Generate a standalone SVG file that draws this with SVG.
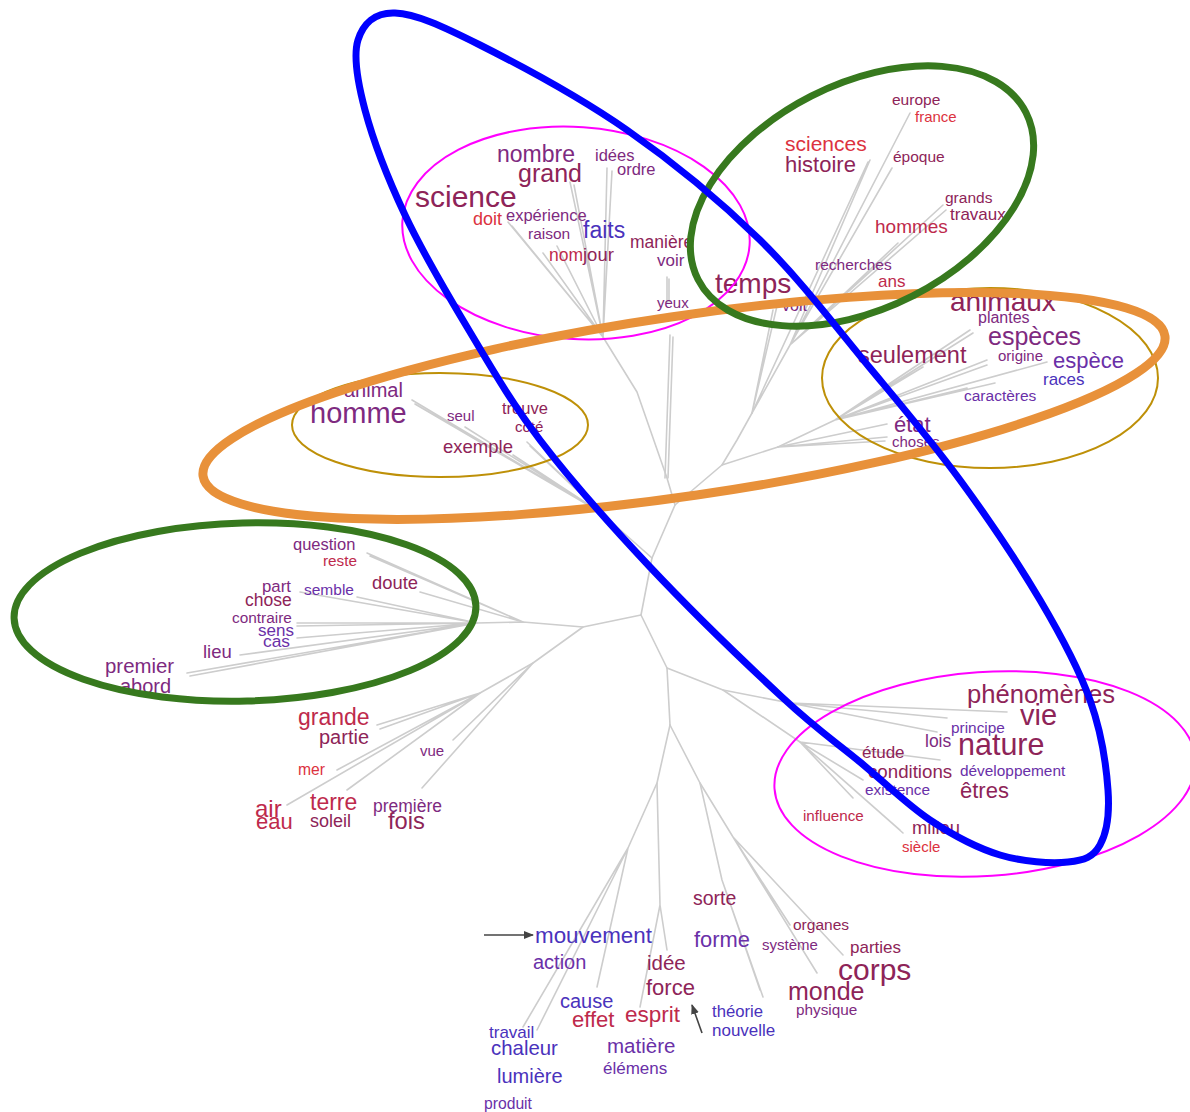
<svg xmlns="http://www.w3.org/2000/svg" width="1190" height="1112" viewBox="0 0 1190 1112">
<style>
text{font-family:"Liberation Sans",Arial,sans-serif}
.r{fill:#dc3240}.cr{fill:#be2a4c}.m{fill:#8e2458}.p{fill:#7e2a80}.v{fill:#6a30a8}.b{fill:#4a32bc}
.tree path{fill:none;stroke:#cdcdcd;stroke-width:1.6;stroke-linecap:round;stroke-linejoin:round}
.ring{fill:none}
</style>
<defs>
<marker id="ah" viewBox="0 0 10 10" refX="9" refY="5" markerWidth="10" markerHeight="10" markerUnits="userSpaceOnUse" orient="auto"><path d="M0,1 L10,5 L0,9 Z" fill="#444"/></marker>
</defs>
<rect width="1190" height="1112" fill="#ffffff"/>
<g id="connectors" class="tree">
<path d="M641,615 L652,558 L675,505 L667,478 L637,392 L603,337"/>
<path d="M652,558 L600,512"/>
<path d="M675,505 L722,465 L778,447"/>
<path d="M722,465 L737,440 L752,413"/>
<path d="M641,615 L583,627 L523,622 L477,623"/>
<path d="M583,627 L533,663 L480,693"/>
<path d="M641,615 L667,668 L670,725"/>
<path d="M667,668 L723,690 L790,703"/>
<path d="M723,690 L800,742"/>
<path d="M603,337 L508,222 M603,337 L512,226 M603,337 L543,253 M603,337 L557,246 M603,337 L570,182 M603,337 L574,185 M603,337 L607,168 M603,337 L612,171 M603,337 L588,262"/>
<path d="M670,335 L665,478 M673,337 L668,478 M667,277 L667,303 M669,279 L669,302"/>
<path d="M752,413 L773,310 M752,413 L777,306"/>
<path d="M752,413 L790,345 L910,113 M790,345 L892,168 M790,345 L870,160 M790,345 L943,205 M790,345 L946,210 M790,345 L898,243 M752,413 L868,162"/>
<path d="M778,447 L835,420 L970,330 M835,420 L973,333 M835,420 L923,367 M835,420 L987,360 M835,420 L987,365 M835,420 L1047,362 M835,420 L995,383 M835,420 L967,388"/>
<path d="M778,447 L887,424 M778,447 L887,437 M778,447 L885,441"/>
<path d="M600,512 L412,400 M600,512 L415,404 M600,512 L465,427 M600,512 L527,442 M600,512 L530,446 M600,512 L513,455"/>
<path d="M523,622 L367,553 M523,622 L370,556 M523,622 L420,592"/>
<path d="M477,623 L357,597 M477,623 L300,592 M477,623 L297,623 M477,623 L297,626 M477,623 L297,638 M477,623 L240,655 M477,623 L187,673 M477,623 L190,676"/>
<path d="M480,693 L377,725 M480,693 L380,729 M480,693 L337,770 M480,693 L287,805 M480,693 L347,790"/>
<path d="M533,663 L453,740 M533,663 L422,788"/>
<path d="M790,703 L1007,712 M790,703 L947,718 M790,703 L937,732"/>
<path d="M800,742 L940,760 M800,742 L863,780 M800,742 L853,798 M800,742 L900,830 M800,742 L903,833"/>
<path d="M670,725 L657,783 L628,848 L523,1027 M628,848 L537,1030 M628,848 L597,987"/>
<path d="M657,783 L660,905 L640,1007 M660,905 L667,950"/>
<path d="M670,725 L700,783 L722,880 L763,997 M722,880 L760,990"/>
<path d="M700,783 L733,837 L817,973 M733,837 L843,955 M733,837 L790,925"/>
</g>
<g id="nodes">
<g id="n-nombre"><text class="p" x="497" y="162" font-size="23">nombre</text></g>
<g id="n-grand"><text class="m" x="518" y="182" font-size="25">grand</text></g>
<g id="n-science"><text class="m" x="415" y="207" font-size="30">science</text></g>
<g id="n-doit"><text class="r" x="473" y="225" font-size="18">doit</text></g>
<g id="n-experience"><text class="p" x="506" y="221" font-size="16.5">expérience</text></g>
<g id="n-raison"><text class="p" x="528" y="239" font-size="15.5">raison</text></g>
<g id="n-faits"><text class="b" x="583" y="238" font-size="23">faits</text></g>
<g id="n-nom"><text class="cr" x="549" y="261" font-size="17.5">nom</text></g>
<g id="n-jour"><text class="m" x="583" y="261" font-size="18.5">jour</text></g>
<g id="n-idees"><text class="p" x="595" y="161" font-size="16.5">idées</text></g>
<g id="n-ordre"><text class="p" x="617" y="175" font-size="16.5">ordre</text></g>
<g id="n-maniere"><text class="m" x="630" y="248" font-size="17.5">manière</text></g>
<g id="n-voir"><text class="p" x="657" y="266" font-size="17">voir</text></g>
<g id="n-yeux"><text class="p" x="657" y="308" font-size="15">yeux</text></g>
<g id="n-temps"><text class="m" x="715" y="293" font-size="28">temps</text></g>
<g id="n-voit"><text class="p" x="782" y="311" font-size="16">voit</text></g>
<g id="n-europe"><text class="m" x="892" y="105" font-size="15.5">europe</text></g>
<g id="n-france"><text class="r" x="915" y="122" font-size="15">france</text></g>
<g id="n-sciences"><text class="r" x="785" y="151" font-size="21">sciences</text></g>
<g id="n-histoire"><text class="m" x="785" y="172" font-size="22">histoire</text></g>
<g id="n-epoque"><text class="m" x="893" y="162" font-size="15.5">époque</text></g>
<g id="n-grands"><text class="m" x="945" y="203" font-size="15.5">grands</text></g>
<g id="n-travaux"><text class="m" x="950" y="220" font-size="17">travaux</text></g>
<g id="n-hommes"><text class="cr" x="875" y="233" font-size="19">hommes</text></g>
<g id="n-recherches"><text class="p" x="815" y="270" font-size="15.5">recherches</text></g>
<g id="n-ans"><text class="cr" x="878" y="287" font-size="17">ans</text></g>
<g id="n-animaux"><text class="m" x="950" y="311" font-size="28">animaux</text></g>
<g id="n-plantes"><text class="p" x="978" y="323" font-size="16">plantes</text></g>
<g id="n-especes"><text class="p" x="988" y="345" font-size="25">espèces</text></g>
<g id="n-seulement"><text class="m" x="858" y="363" font-size="23.5">seulement</text></g>
<g id="n-origine"><text class="p" x="998" y="361" font-size="15">origine</text></g>
<g id="n-espece"><text class="v" x="1053" y="368" font-size="22">espèce</text></g>
<g id="n-races"><text class="b" x="1043" y="385" font-size="17">races</text></g>
<g id="n-caracteres"><text class="v" x="964" y="401" font-size="15.5">caractères</text></g>
<g id="n-etat"><text class="p" x="894" y="432" font-size="22">état</text></g>
<g id="n-choses"><text class="p" x="892" y="447" font-size="15">choses</text></g>
<g id="n-animal"><text class="p" x="344" y="397" font-size="20">animal</text></g>
<g id="n-homme"><text class="p" x="310" y="423" font-size="29">homme</text></g>
<g id="n-seul"><text class="p" x="447" y="421" font-size="15">seul</text></g>
<g id="n-trouve"><text class="m" x="502" y="414" font-size="16.5">trouve</text></g>
<g id="n-cote"><text class="m" x="515" y="432" font-size="15">côté</text></g>
<g id="n-exemple"><text class="m" x="443" y="453" font-size="18.5">exemple</text></g>
<g id="n-question"><text class="p" x="293" y="550" font-size="16.5">question</text></g>
<g id="n-reste"><text class="cr" x="323" y="566" font-size="15.3">reste</text></g>
<g id="n-doute"><text class="m" x="372" y="589" font-size="18.4">doute</text></g>
<g id="n-part"><text class="p" x="262" y="592" font-size="16.8">part</text></g>
<g id="n-chose"><text class="m" x="245" y="606" font-size="17.5">chose</text></g>
<g id="n-semble"><text class="v" x="304" y="595" font-size="15.5">semble</text></g>
<g id="n-contraire"><text class="p" x="232" y="623" font-size="15.4">contraire</text></g>
<g id="n-sens"><text class="v" x="258" y="636" font-size="17">sens</text></g>
<g id="n-cas"><text class="v" x="263" y="647" font-size="17.4">cas</text></g>
<g id="n-lieu"><text class="p" x="203" y="658" font-size="18.5">lieu</text></g>
<g id="n-premier"><text class="p" x="105" y="673" font-size="20.4">premier</text></g>
<g id="n-abord"><text class="p" x="120" y="693" font-size="20">abord</text></g>
<g id="n-grande"><text class="cr" x="298" y="725" font-size="23">grande</text></g>
<g id="n-partie"><text class="m" x="319" y="744" font-size="20">partie</text></g>
<g id="n-mer"><text class="r" x="298" y="775" font-size="15.7">mer</text></g>
<g id="n-vue"><text class="p" x="420" y="756" font-size="15">vue</text></g>
<g id="n-air"><text class="cr" x="255" y="817" font-size="24">air</text></g>
<g id="n-eau"><text class="cr" x="256" y="829" font-size="22">eau</text></g>
<g id="n-terre"><text class="cr" x="310" y="810" font-size="23">terre</text></g>
<g id="n-soleil"><text class="m" x="310" y="827" font-size="18">soleil</text></g>
<g id="n-premiere"><text class="p" x="373" y="812" font-size="17.5">première</text></g>
<g id="n-fois"><text class="m" x="388" y="829" font-size="23.7">fois</text></g>
<g id="n-phenomenes"><text class="m" x="967" y="703" font-size="25.6">phénomènes</text></g>
<g id="n-vie"><text class="m" x="1020" y="725" font-size="29">vie</text></g>
<g id="n-principe"><text class="v" x="951" y="733" font-size="15.4">principe</text></g>
<g id="n-lois"><text class="p" x="925" y="747" font-size="17.5">lois</text></g>
<g id="n-nature"><text class="m" x="958" y="755" font-size="30.5">nature</text></g>
<g id="n-etude"><text class="m" x="862" y="758" font-size="17">étude</text></g>
<g id="n-conditions"><text class="m" x="868" y="778" font-size="18.7">conditions</text></g>
<g id="n-developpement"><text class="v" x="960" y="776" font-size="15.4">développement</text></g>
<g id="n-existence"><text class="v" x="865" y="795" font-size="15.4">existence</text></g>
<g id="n-etres"><text class="m" x="960" y="798" font-size="22">êtres</text></g>
<g id="n-influence"><text class="cr" x="803" y="821" font-size="15.2">influence</text></g>
<g id="n-milieu"><text class="m" x="912" y="834" font-size="18.4">milieu</text></g>
<g id="n-siecle"><text class="r" x="902" y="852" font-size="15">siècle</text></g>
<g id="n-sorte"><text class="m" x="693" y="905" font-size="19.5">sorte</text></g>
<g id="n-mouvement"><text class="b" x="535" y="943" font-size="22.4">mouvement</text></g>
<g id="n-forme"><text class="v" x="694" y="947" font-size="21.9">forme</text></g>
<g id="n-action"><text class="v" x="533" y="969" font-size="20">action</text></g>
<g id="n-idee"><text class="m" x="647" y="970" font-size="20.5">idée</text></g>
<g id="n-force"><text class="m" x="646" y="995" font-size="22">force</text></g>
<g id="n-organes"><text class="m" x="793" y="930" font-size="15.5">organes</text></g>
<g id="n-systeme"><text class="p" x="762" y="950" font-size="15">système</text></g>
<g id="n-parties"><text class="m" x="850" y="953" font-size="17">parties</text></g>
<g id="n-corps"><text class="m" x="838" y="980" font-size="30">corps</text></g>
<g id="n-monde"><text class="m" x="788" y="1000" font-size="25">monde</text></g>
<g id="n-physique"><text class="p" x="796" y="1015" font-size="15.3">physique</text></g>
<g id="n-theorie"><text class="b" x="712" y="1017" font-size="16.7">théorie</text></g>
<g id="n-nouvelle"><text class="b" x="712" y="1036" font-size="17">nouvelle</text></g>
<g id="n-cause"><text class="b" x="560" y="1008" font-size="20">cause</text></g>
<g id="n-effet"><text class="cr" x="572" y="1027" font-size="22">effet</text></g>
<g id="n-esprit"><text class="cr" x="625" y="1022" font-size="22.5">esprit</text></g>
<g id="n-travail"><text class="b" x="489" y="1038" font-size="17">travail</text></g>
<g id="n-chaleur"><text class="b" x="491" y="1055" font-size="20.4">chaleur</text></g>
<g id="n-matiere"><text class="v" x="607" y="1053" font-size="20.5">matière</text></g>
<g id="n-elemens"><text class="v" x="603" y="1074" font-size="17">élémens</text></g>
<g id="n-lumiere"><text class="b" x="497" y="1083" font-size="20">lumière</text></g>
<g id="n-produit"><text class="v" x="484" y="1109" font-size="15.7">produit</text></g>
</g>
<g id="annotations">
<ellipse id="ring-magenta-top" class="ring" cx="576" cy="233" rx="174" ry="106" transform="rotate(4 576 233)" stroke="#ff00ff" stroke-width="2"/>
<ellipse id="ring-magenta-bottom" class="ring" cx="985" cy="774" rx="211" ry="102" transform="rotate(-4 985 774)" stroke="#ff00ff" stroke-width="2"/>
<ellipse id="ring-olive-left" class="ring" cx="440" cy="425" rx="148" ry="52" stroke="#be9008" stroke-width="2"/>
<ellipse id="ring-olive-right" class="ring" cx="990" cy="378" rx="168" ry="90" stroke="#be9008" stroke-width="2"/>
<ellipse id="ring-orange" class="ring" cx="684" cy="406" rx="486" ry="90" transform="rotate(-8.3 684 406)" stroke="#e8913a" stroke-width="9"/>
<ellipse id="ring-green-top" class="ring" cx="862" cy="196" rx="184" ry="112" transform="rotate(-27 862 196)" stroke="#37791e" stroke-width="7"/>
<ellipse id="ring-green-left" class="ring" cx="245" cy="612" rx="231" ry="89" transform="rotate(-1.5 245 612)" stroke="#37791e" stroke-width="7"/>
<path id="ring-blue" class="ring" stroke="#0000ff" stroke-width="7" d="M395,13 C415.3,13.8 441.3,25.5 480,45 C518.7,64.5 580.3,97.5 627,130 C673.7,162.5 719.5,200.3 760,240 C800.5,279.7 836.7,328 870,368 C903.3,408 931.7,441.3 960,480 C988.3,518.7 1018.3,563.3 1040,600 C1061.7,636.7 1078.7,668.3 1090,700 C1101.3,731.7 1106.3,765.8 1108,790 C1109.7,814.2 1106.7,833 1100,845 C1093.3,857 1084.7,860.3 1068,862 C1051.3,863.7 1023,862 1000,855 C977,848 953.3,835.5 930,820 C906.7,804.5 884.5,782.3 860,762 C835.5,741.7 818,730.5 783,698 C748,665.5 690.5,610 650,567 C609.5,524 570.5,480 540,440 C509.5,400 489.5,364.5 467,327 C444.5,289.5 422,251.2 405,215 C388,178.8 372.8,139.2 365,110 C357.2,80.8 353,56.2 358,40 C363,23.8 374.7,12.2 395,13 Z"/>
<line id="arrow-mouvement" x1="484" y1="935" x2="533" y2="935" stroke="#444" stroke-width="1.6" marker-end="url(#ah)"/>
<line id="arrow-force" x1="702" y1="1033" x2="692" y2="1005" stroke="#444" stroke-width="1.6" marker-end="url(#ah)"/>
</g>
</svg>
